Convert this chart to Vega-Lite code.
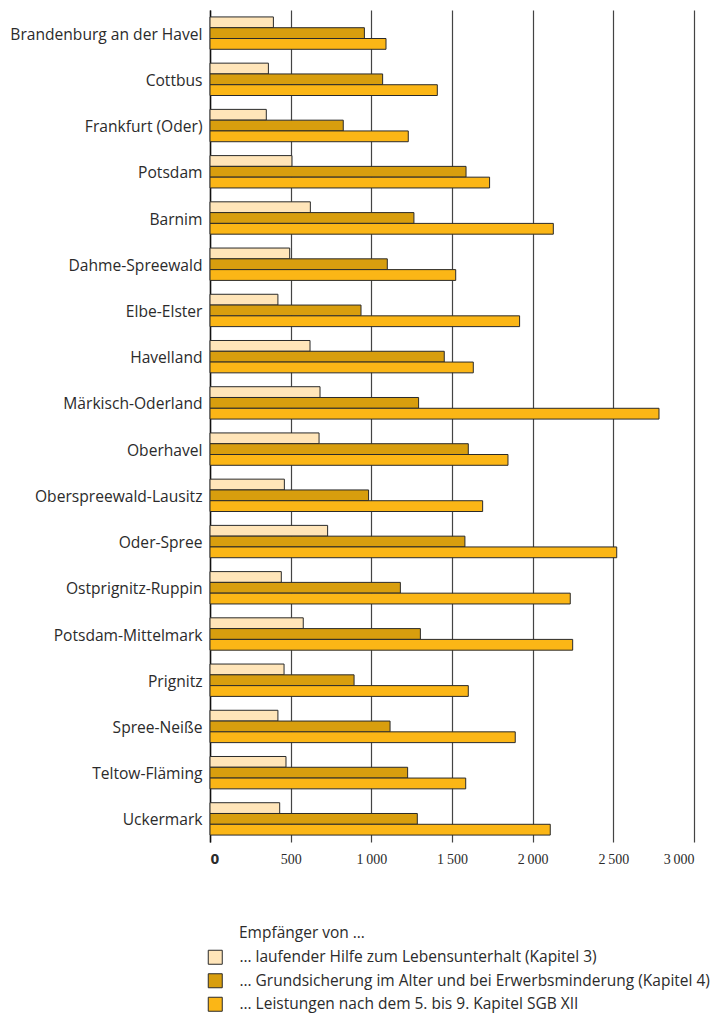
{
  "$schema": "https://vega.github.io/schema/vega-lite/v6.json",
  "width": 484,
  "height": 832,
  "padding": {"left": 210, "top": 10, "right": 30, "bottom": 176},
  "autosize": {"type": "none"},
  "background": "white",
  "data": {"values": [
    {"region": "Brandenburg an der Havel", "typ": "k3", "wert": 393},
    {"region": "Brandenburg an der Havel", "typ": "k4", "wert": 957},
    {"region": "Brandenburg an der Havel", "typ": "k5", "wert": 1091},
    {"region": "Cottbus", "typ": "k3", "wert": 362},
    {"region": "Cottbus", "typ": "k4", "wert": 1070},
    {"region": "Cottbus", "typ": "k5", "wert": 1409},
    {"region": "Frankfurt (Oder)", "typ": "k3", "wert": 349},
    {"region": "Frankfurt (Oder)", "typ": "k4", "wert": 826},
    {"region": "Frankfurt (Oder)", "typ": "k5", "wert": 1229},
    {"region": "Potsdam", "typ": "k3", "wert": 508},
    {"region": "Potsdam", "typ": "k4", "wert": 1587},
    {"region": "Potsdam", "typ": "k5", "wert": 1733},
    {"region": "Barnim", "typ": "k3", "wert": 622},
    {"region": "Barnim", "typ": "k4", "wert": 1264},
    {"region": "Barnim", "typ": "k5", "wert": 2128},
    {"region": "Dahme-Spreewald", "typ": "k3", "wert": 494},
    {"region": "Dahme-Spreewald", "typ": "k4", "wert": 1099},
    {"region": "Dahme-Spreewald", "typ": "k5", "wert": 1523},
    {"region": "Elbe-Elster", "typ": "k3", "wert": 421},
    {"region": "Elbe-Elster", "typ": "k4", "wert": 936},
    {"region": "Elbe-Elster", "typ": "k5", "wert": 1919},
    {"region": "Havelland", "typ": "k3", "wert": 620},
    {"region": "Havelland", "typ": "k4", "wert": 1452},
    {"region": "Havelland", "typ": "k5", "wert": 1632},
    {"region": "Märkisch-Oderland", "typ": "k3", "wert": 682},
    {"region": "Märkisch-Oderland", "typ": "k4", "wert": 1293},
    {"region": "Märkisch-Oderland", "typ": "k5", "wert": 2783},
    {"region": "Oberhavel", "typ": "k3", "wert": 676},
    {"region": "Oberhavel", "typ": "k4", "wert": 1601},
    {"region": "Oberhavel", "typ": "k5", "wert": 1847},
    {"region": "Oberspreewald-Lausitz", "typ": "k3", "wert": 461},
    {"region": "Oberspreewald-Lausitz", "typ": "k4", "wert": 983},
    {"region": "Oberspreewald-Lausitz", "typ": "k5", "wert": 1690},
    {"region": "Oder-Spree", "typ": "k3", "wert": 729},
    {"region": "Oder-Spree", "typ": "k4", "wert": 1580},
    {"region": "Oder-Spree", "typ": "k5", "wert": 2521},
    {"region": "Ostprignitz-Ruppin", "typ": "k3", "wert": 442},
    {"region": "Ostprignitz-Ruppin", "typ": "k4", "wert": 1180},
    {"region": "Ostprignitz-Ruppin", "typ": "k5", "wert": 2233},
    {"region": "Potsdam-Mittelmark", "typ": "k3", "wert": 578},
    {"region": "Potsdam-Mittelmark", "typ": "k4", "wert": 1304},
    {"region": "Potsdam-Mittelmark", "typ": "k5", "wert": 2248},
    {"region": "Prignitz", "typ": "k3", "wert": 459},
    {"region": "Prignitz", "typ": "k4", "wert": 893},
    {"region": "Prignitz", "typ": "k5", "wert": 1601},
    {"region": "Spree-Neiße", "typ": "k3", "wert": 421},
    {"region": "Spree-Neiße", "typ": "k4", "wert": 1116},
    {"region": "Spree-Neiße", "typ": "k5", "wert": 1892},
    {"region": "Teltow-Fläming", "typ": "k3", "wert": 471},
    {"region": "Teltow-Fläming", "typ": "k4", "wert": 1225},
    {"region": "Teltow-Fläming", "typ": "k5", "wert": 1585},
    {"region": "Uckermark", "typ": "k3", "wert": 432},
    {"region": "Uckermark", "typ": "k4", "wert": 1285},
    {"region": "Uckermark", "typ": "k5", "wert": 2109}
  ]},
  "mark": {"type": "bar", "stroke": "#2a2a2a", "strokeWidth": 1},
  "encoding": {
    "y": {
      "field": "region", "type": "nominal", "sort": null, "title": null,
      "scale": {"paddingInner": 0.3, "paddingOuter": 0.15},
      "axis": {
        "ticks": false, "domain": true, "domainColor": "#111", "domainWidth": 1.5,
        "labelFont": "Open Sans", "labelFontSize": 15.6, "labelColor": "#2b2b2b",
        "labelPadding": 8, "labelLimit": 300, "grid": false, "labelOffset": 1.5
      }
    },
    "yOffset": {"field": "typ", "type": "nominal", "sort": ["k3", "k4", "k5"], "scale": {"paddingInner": 0, "paddingOuter": 0}},
    "x": {
      "field": "wert", "type": "quantitative", "title": null,
      "scale": {"domain": [0, 3000], "nice": false},
      "axis": {
        "values": [0, 500, 1000, 1500, 2000, 2500, 3000],
        "domain": false, "ticks": false,
        "grid": true, "gridColor": "#444", "gridWidth": 1.2, "gridOpacity": 1,
        "labelFont": {"condition": {"test": "datum.value === 0", "value": "DejaVu Sans Condensed"}, "value": "Liberation Sans Narrow"},
        "labelFontSize": 14, "labelColor": "#2b2b2b",
        "labelPadding": 10,
        "labelFontWeight": {"condition": {"test": "datum.value === 0", "value": "bold"}, "value": "normal"},
        "labelExpr": "replace(format(datum.value, ','), ',', '\u2009')"
      }
    },
    "fill": {
      "field": "typ", "type": "nominal",
      "scale": {"domain": ["k3", "k4", "k5"], "range": ["#FFE5B9", "#D89E0E", "#FBB616"]},
      "legend": {
        "orient": "none", "legendX": 29, "legendY": 916, "padding": 0,
        "title": "Empfänger von …", "titleFont": "Open Sans", "titleFontSize": 15.5, "titleFontWeight": "normal", "titleColor": "#2b2b2b", "titlePadding": 8,
        "symbolType": "square", "symbolSize": 196, "symbolStrokeColor": "#2a2a2a", "symbolStrokeWidth": 1, "symbolOpacity": 1,
        "symbolOffset": -31.5, "labelOffset": 16.5,
        "labelFont": "Open Sans", "labelFontSize": 15.5, "labelColor": "#2b2b2b", "labelLimit": 600,
        "rowPadding": 4.5,
        "labelExpr": "datum.value === 'k3' ? '… laufender Hilfe zum Lebensunterhalt (Kapitel 3)' : datum.value === 'k4' ? '… Grundsicherung im Alter und bei Erwerbsminderung (Kapitel 4)' : '… Leistungen nach dem 5. bis 9. Kapitel SGB XII'"
      }
    }
  },
  "config": {"view": {"stroke": null}}
}
